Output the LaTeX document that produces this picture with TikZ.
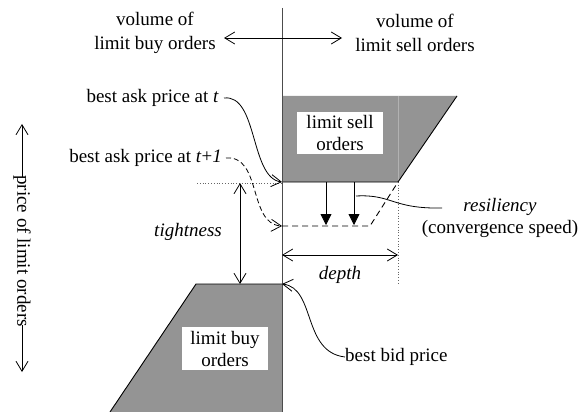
\documentclass[tikz,border=0pt]{standalone}
\usepackage{fontspec}
\setmainfont{Liberation Serif}
\usetikzlibrary{arrows.meta}
\begin{document}
\begin{tikzpicture}[x=1pt,y=-1pt,
  txt/.style={font=\fontsize{19}{22}\selectfont, inner sep=0pt, align=center},
  itl/.style={txt, font=\fontsize{19}{22}\selectfont\itshape},
  toptxt/.style={txt, font=\fontsize{19}{24}\selectfont},
  bookfill/.style={fill=black!42},
  edge/.style={line width=0.9pt, black},
  barb/.style={line width=0.8pt, -{Straight Barb[length=10pt,width=12pt]}},
  dbarb/.style={line width=0.8pt, {Straight Barb[length=10pt,width=12pt]}-{Straight Barb[length=10pt,width=12pt]}},
  tri/.style={line width=0.8pt, -{Triangle[length=11pt,width=11pt]}},
  whitebox/.style={fill=white, draw=none},
  dotline/.style={dotted, line width=0.8pt, black!60}]
\useasboundingbox (0,0) rectangle (579,412);

% coordinates of the order book
\coordinate (sTL) at (282,96);
\coordinate (sTR) at (457,96);
\coordinate (sBR) at (398,182);
\coordinate (sBL) at (282,182);
\coordinate (sMid) at (398,96);
\coordinate (bTL) at (196,284);
\coordinate (bTR) at (282,284);
\coordinate (bBR) at (282,412);
\coordinate (bBL) at (110,412);

% sell and buy blocks
\fill[bookfill] (sTL) -- (sTR) -- (sBR) -- (sBL) -- cycle;
\draw[black!30, line width=0.6pt] (sMid) -- (sBR);
\fill[bookfill] (bTL) -- (bTR) -- (bBR) -- (bBL) -- cycle;
\fill[whitebox] (297,112) rectangle (383,154);
\fill[whitebox] (182,327) rectangle (268,370);
\node[txt] (sellorders) at (340,133) {limit sell\\orders};
\node[txt] (buyorders) at (225,348.5) {limit buy\\orders};

\draw[edge] (sBL) -- (sBR) -- (sTR);
\draw[edge] (bBL) -- (bTL) -- (bTR);

% axis
\coordinate (axTop) at (282,8);
\coordinate (axBot) at (282,412);
\draw[black!70, line width=1pt] (axTop) -- (axBot);

% volume labels
\node[toptxt] (vbuy) at (155,33) {volume of\\limit buy orders};
\node[toptxt] (vsell) at (415,33) {volume of\\limit sell orders};
\coordinate (volL) at (224,38);
\coordinate (volR) at (342,38);
\draw[dbarb] (volL) -- (volR);

% price label
\node[txt, rotate=-90] (price) at (22,251) {price of limit orders};
\coordinate (priceTop) at (22,124);
\coordinate (priceBot) at (22,372);
\draw[barb] ([yshift=-2pt]price.west) -- (priceTop);
\draw[barb] ([yshift=2pt]price.east) -- (priceBot);

% dotted guides
\coordinate (dotL) at (197,183);
\coordinate (dotR) at (282,183);
\draw[dotline] (dotL) -- (dotR);
\coordinate (depthEnd) at (398,283);
\draw[dotline] (sBR) -- (depthEnd);

% shift of best ask
\coordinate (a1top) at (326,182);
\coordinate (a1bot) at (326,225);
\coordinate (a2top) at (354,182);
\coordinate (a2bot) at (354,225);
\draw[tri] (a1top) -- (a1bot);
\draw[tri] (a2top) -- (a2bot);
\coordinate (newL) at (282,226);
\coordinate (newK) at (370,226);
\draw[line width=0.9pt, dash pattern=on 6pt off 4pt] (newL) -- (newK) -- (sBR);

% tightness
\coordinate (tTop) at (240,183);
\coordinate (tBot) at (240,284);
\draw[dbarb] (tTop) -- (tBot);
\node[itl] (tight) at (188,232) {tightness};

% depth
\coordinate (dL) at (282,255);
\coordinate (dR) at (398,255);
\draw[dbarb] (dL) -- (dR);
\node[itl] (depth) at (340,275) {depth};

% best ask labels
\node[txt, anchor=east] (askt) at (219,98) {best ask price at \textit{t}};
\node[txt, anchor=east] (askt1) at (222,158) {best ask price at \textit{t}+\textit{1}};
\draw[barb] ([xshift=5pt]askt.east) .. controls (258,94) and (250,178) .. (sBL);
\draw[barb, dash pattern=on 5pt off 3pt] ([xshift=4pt]askt1.east) .. controls (262,155) and (248,224) .. (newL);

% resiliency
\node[txt] (resil) at (500,218) {\textit{resiliency}\\(convergence speed)};
\coordinate (rStart) at (356,196);
\coordinate (rEnd) at (442,208);
\draw[line width=0.8pt] (rStart) .. controls (392,194) and (392,209) .. (rEnd);

% best bid
\node[txt, anchor=west] (bid) at (345,357) {best bid price};
\draw[barb] (bid.west) .. controls (302,352) and (316,288) .. (bTR);
\end{tikzpicture}
\end{document}
